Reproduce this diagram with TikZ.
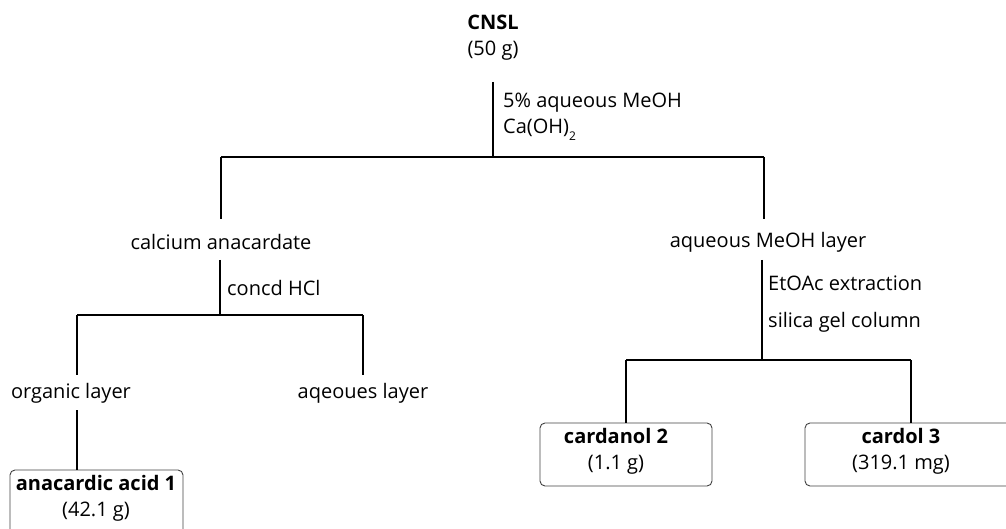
\documentclass[tikz,border=0pt]{standalone}
\usepackage{fontspec}
\setmainfont{Open Sans}
\begin{document}
\begin{tikzpicture}[x=1pt,y=-1pt,
  txt/.style={inner sep=0pt, align=center, font=\fontsize{20}{26}\selectfont},
  lbl/.style={inner sep=0pt, anchor=west, align=left, font=\fontsize{20}{26}\selectfont},
  ln/.style={line width=1.6pt},
  hl/.style={line width=1.1pt},
  rbox/.style={draw=black!75, line width=0.9pt, rounded corners=5pt, inner sep=0pt}]
\useasboundingbox (0,0) rectangle (1006,529);
% top
\node[txt] (cnsl) at (493,38) {\textbf{CNSL}\\(50 g)};
\coordinate (a0) at (493,82);
\coordinate (j1) at (493,157);
\coordinate (jl) at (221,157);
\coordinate (jr) at (764,157);
\coordinate (al) at (221,219);
\coordinate (ar) at (764,219);
\node[lbl] (r1) at (503,103) {5\% aqueous MeOH};
\node[lbl] (r2) at (503,130) {Ca(OH)\raisebox{-7pt}{\fontsize{12}{12}\selectfont 2}};
\draw[ln] (a0) -- (j1);
\draw[hl] (jl) -- (jr);
\draw[ln] (jl) -- (al);
\draw[ln] (jr) -- (ar);
% left branch
\node[txt] (calc) at (221,242) {calcium anacardate};
\coordinate (b0) at (220,260);
\coordinate (b1) at (220,315);
\coordinate (bl) at (77,315);
\coordinate (br) at (363,315);
\coordinate (bl2) at (77,375);
\coordinate (br2) at (363,375);
\node[lbl] (r3) at (227,288) {concd HCl};
\draw[ln] (b0) -- (b1);
\draw[hl] (bl) -- (br);
\draw[ln] (bl) -- (bl2);
\draw[ln] (br) -- (br2);
\node[txt] (org) at (71,393) {organic layer};
\node[txt] (aql) at (363,393) {aqeoues layer};
\coordinate (c0) at (77,410);
\node[rbox, minimum width=173pt, minimum height=64pt] (anac) at (96.5,502) {};
\node[txt] (anact) at (96,498.5) {\textbf{anacardic acid 1}\\(42.1 g)};
\draw[ln] (c0) -- (c0 |- anac.north);
% right branch
\node[txt] (aqm) at (768,242) {aqueous MeOH layer};
\coordinate (d0) at (762,260);
\coordinate (d1) at (762,360);
\coordinate (dl) at (626,360);
\coordinate (dr) at (911,360);
\node[lbl] (r4) at (768,283) {EtOAc extraction};
\node[lbl] (r5) at (768,322) {silica gel column};
\draw[ln] (d0) -- (d1);
\draw[hl] (dl) -- (dr);
\node[rbox, minimum width=172pt, minimum height=63pt] (card) at (626,454.5) {};
\node[txt] (cardt) at (616,451.5) {\textbf{cardanol 2}\\(1.1 g)};
\node[rbox, minimum width=212pt, minimum height=63pt] (cdl) at (911,454.5) {};
\node[txt] (cdlt) at (901,451.5) {\textbf{cardol 3}\\(319.1 mg)};
\draw[ln] (dl) -- (card.north);
\draw[ln] (dr) -- (cdl.north);
\end{tikzpicture}
\end{document}
